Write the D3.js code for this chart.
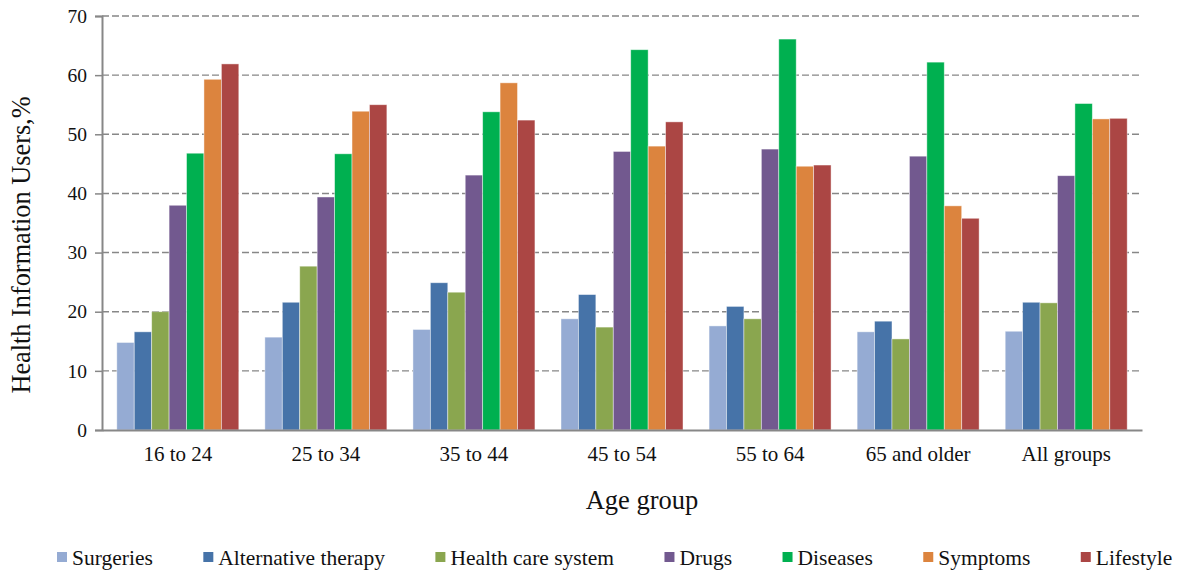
<!DOCTYPE html>
<html>
<head>
<meta charset="utf-8">
<script src="https://cdn.jsdelivr.net/npm/d3@7"></script>
<style>
  html, body { margin: 0; padding: 0; background: #fff; }
  svg { display: block; font-family: "Liberation Serif", "Times New Roman", serif; }
</style>
</head>
<body>
<svg id="chart" width="1180" height="573"></svg>
<script>
// Share of health information users by topic, per age group (%)
const ageGroups = ["16 to 24", "25 to 34", "35 to 44", "45 to 54", "55 to 64", "65 and older", "All groups"];
const topics = ["Surgeries", "Alternative therapy", "Health care system", "Drugs", "Diseases", "Symptoms", "Lifestyle"];
const topicColors = ["#95abd3", "#4673a8", "#8aa64f", "#72598f", "#00b050", "#dc843e", "#ab4644"];

const surgeries          = [14.8, 15.7, 17.0, 18.8, 17.6, 16.6, 16.7];
const alternativeTherapy = [16.6, 21.6, 24.9, 22.9, 20.9, 18.4, 21.6];
const healthCareSystem   = [20.0, 27.7, 23.3, 17.4, 18.8, 15.4, 21.5];
const drugs              = [38.0, 39.4, 43.1, 47.1, 47.5, 46.3, 43.0];
const diseases           = [46.8, 46.7, 53.8, 64.3, 66.1, 62.2, 55.2];
const symptoms           = [59.3, 53.9, 58.7, 48.0, 44.6, 37.9, 52.6];
const lifestyle          = [61.9, 55.0, 52.4, 52.1, 44.8, 35.8, 52.7];

const yTicks = [0, 10, 20, 30, 40, 50, 60, 70];

const seriesValues = [surgeries, alternativeTherapy, healthCareSystem, drugs, diseases, symptoms, lifestyle];
const rows = ageGroups.map((g, i) => ({
  group: g,
  values: topics.map((t, j) => ({ topic: t, value: seriesValues[j][i], color: topicColors[j] }))
}));

const svg = d3.select("#chart");
const margin = { left: 102, right: 38, top: 16, bottom: 143 };
const W = 1180, H = 573;
const plotW = W - margin.left - margin.right;
const plotH = H - margin.top - margin.bottom;
const axisColor = "#878787";

const g = svg.append("g").attr("transform", `translate(${margin.left},${margin.top})`);

const x0 = d3.scaleBand().domain(ageGroups).range([0, plotW]).paddingInner(0.176).paddingOuter(0.1);
const x1 = d3.scaleBand().domain(topics).range([0, x0.bandwidth()]).padding(0);
const y = d3.scaleLinear().domain([0, 70]).range([plotH, 0]);

// dashed horizontal gridlines
g.append("g")
  .selectAll("line")
  .data(yTicks.filter(t => t > 0))
  .join("line")
  .attr("x1", 0).attr("x2", plotW)
  .attr("y1", d => y(d)).attr("y2", d => y(d))
  .attr("stroke", axisColor)
  .attr("stroke-width", 1.4)
  .attr("stroke-dasharray", "7,3");

// bars
const groups = g.append("g")
  .selectAll("g")
  .data(rows)
  .join("g")
  .attr("transform", d => `translate(${x0(d.group)},0)`);

groups.selectAll("rect")
  .data(d => d.values)
  .join("rect")
  .attr("x", d => x1(d.topic))
  .attr("y", d => y(d.value))
  .attr("width", x1.bandwidth())
  .attr("height", d => y(0) - y(d.value))
  .attr("fill", d => d.color)
  .attr("stroke", "#ffffff")
  .attr("stroke-opacity", 0.55)
  .attr("stroke-width", 0.8);

// y axis
const yAxis = g.append("g")
  .call(d3.axisLeft(y).tickValues(yTicks).tickSize(7).tickPadding(8).tickFormat(d3.format("d")));
yAxis.select(".domain").attr("stroke", axisColor).attr("stroke-width", 2);
yAxis.selectAll(".tick line").attr("stroke", axisColor).attr("stroke-width", 1.5);
yAxis.selectAll(".tick text")
  .attr("font-family", "Liberation Serif, serif")
  .attr("font-size", 19.5)
  .attr("fill", "#111");

// x axis
const xAxis = g.append("g")
  .attr("transform", `translate(0,${plotH})`)
  .call(d3.axisBottom(x0).tickSize(0).tickPadding(16));
xAxis.select(".domain").attr("stroke", axisColor).attr("stroke-width", 2);
xAxis.selectAll(".tick text")
  .attr("font-family", "Liberation Serif, serif")
  .attr("font-size", 21)
  .attr("fill", "#111");

// axis titles
svg.append("text")
  .attr("x", 642)
  .attr("y", 509)
  .attr("text-anchor", "middle")
  .attr("font-size", 26.5)
  .attr("fill", "#111")
  .text("Age group");

svg.append("text")
  .attr("transform", "translate(30,245) rotate(-90)")
  .attr("text-anchor", "middle")
  .attr("font-size", 26.3)
  .attr("fill", "#111")
  .text("Health Information Users,%");

// legend, laid out left to right from measured label widths
const legend = svg.append("g").attr("transform", "translate(57,552)");
let cursor = 0;
topics.forEach((t, i) => {
  const item = legend.append("g").attr("transform", `translate(${cursor},0)`);
  item.append("rect").attr("width", 10).attr("height", 10).attr("fill", topicColors[i]);
  const label = item.append("text")
    .attr("x", 15).attr("y", 13)
    .attr("font-size", 21.5)
    .attr("fill", "#111")
    .text(t);
  cursor += 15 + label.node().getComputedTextLength() + 50.5;
});
</script>
</body>
</html>
